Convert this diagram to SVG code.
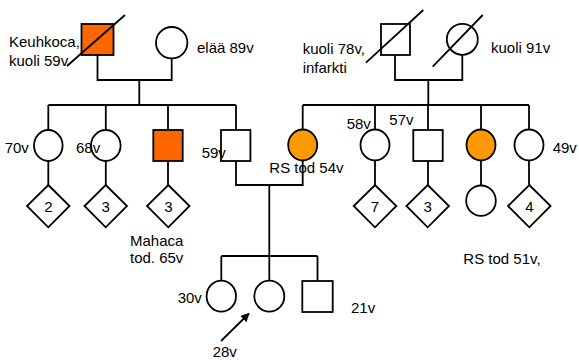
<svg xmlns="http://www.w3.org/2000/svg" width="579" height="360" viewBox="0 0 579 360">
<defs>
<style>
.s{fill:#fff;stroke:#000;stroke-width:1.8}
.o1{fill:#FF6600}
.o2{fill:#FF9900}
.c{fill:none;stroke:#000;stroke-width:1.8}
.d{stroke:#000;stroke-width:1.8}
text{font-family:"Liberation Sans",Arial,sans-serif;font-size:15px;fill:#000}
.m{text-anchor:middle}
</style>
<marker id="ah" viewBox="0 0 10 10" refX="9" refY="5" markerWidth="9" markerHeight="9" orient="auto" markerUnits="userSpaceOnUse">
<path d="M0,0 L10,5 L0,10 z" fill="#000"/>
</marker>
</defs>
<rect width="579" height="360" fill="#fff"/>
<g id="connectors">
<path class="c" d="M97.5,55 V80 H171.7 V58.5 M139.3,80 V105 M48.3,105 H236 M48.3,105 V130 M105.8,105 V130 M168,105 V130 M236,105 V130"/>
<path class="c" d="M395,55 V80 H462.3 V55 M428.3,80 V105 M302.7,105 H529 M302.7,105 V130 M375,105 V130 M428,105 V130 M481,105 V130 M529,105 V130"/>
<path class="c" d="M48.3,161 V185 M105.8,161 V185 M168,161 V185 M375,161 V185 M428,161 V185 M481,161 V185.5 M529,161 V185"/>
<path class="c" d="M236,161 V185 H302.7 V160.5 M269.3,185 V256 M221.3,256 H317.5 M221.3,256 V280.5 M269.3,256 V280.5 M317.5,256 V280.5"/>
<line class="d" x1="221" y1="341" x2="249" y2="313.5" marker-end="url(#ah)"/>
</g>
<g id="gf1"><rect class="s o1" x="81.5" y="24" width="32" height="31"/><line class="d" x1="67" y1="66" x2="125" y2="15"/></g>
<g id="gm1"><circle class="s" cx="171.7" cy="42.7" r="15.7"/></g>
<g id="gf2"><rect class="s" x="381" y="24" width="29" height="31"/><line class="d" x1="366" y1="62.7" x2="423.3" y2="10"/></g>
<g id="gm2"><circle class="s" cx="462.3" cy="39.3" r="15.5"/><line class="d" x1="432.7" y1="66.7" x2="482.7" y2="15"/></g>
<g id="a1"><ellipse class="s" cx="48.3" cy="145.5" rx="14.3" ry="15.5"/></g>
<g id="a2"><ellipse class="s" cx="105.8" cy="145.5" rx="14.8" ry="15.5"/></g>
<g id="a3"><rect class="s o1" x="153.3" y="130" width="29.4" height="31"/></g>
<g id="father"><rect class="s" x="221" y="130" width="29.4" height="31"/></g>
<g id="mother"><ellipse class="s o2" cx="302.7" cy="145" rx="14.5" ry="15.5"/></g>
<g id="b1"><ellipse class="s" cx="375" cy="145" rx="14.5" ry="15.5"/></g>
<g id="b2"><rect class="s" x="413.3" y="130" width="29.4" height="31"/></g>
<g id="b3"><ellipse class="s o2" cx="481" cy="145" rx="14.5" ry="15.5"/></g>
<g id="b4"><ellipse class="s" cx="529" cy="145" rx="14.5" ry="15.5"/></g>
<g id="d1"><polygon class="s" points="48.3,185 69.5,206 48.3,227.3 27,206"/><text class="m" x="48.3" y="211.5">2</text></g>
<g id="d2"><polygon class="s" points="105.7,185 127,206 105.7,227.3 84.5,206"/><text class="m" x="105.7" y="211.5">3</text></g>
<g id="d3"><polygon class="s" points="168.3,185 189.5,206 168.3,227.3 147,206"/><text class="m" x="168.3" y="211.5">3</text></g>
<g id="d4"><polygon class="s" points="375,185 396.3,206 375,227.3 353.7,206"/><text class="m" x="375" y="211.5">7</text></g>
<g id="d5"><polygon class="s" points="427.7,185 449,206 427.7,227.3 406.4,206"/><text class="m" x="427.7" y="211.5">3</text></g>
<g id="c5"><ellipse class="s" cx="481" cy="200.7" rx="14.8" ry="15.2"/></g>
<g id="d6"><polygon class="s" points="529.3,185 550.6,206 529.3,227.3 508,206"/><text class="m" x="529.3" y="211.5">4</text></g>
<g id="k1"><ellipse class="s" cx="221.3" cy="296.2" rx="14.7" ry="15.5"/></g>
<g id="k2"><ellipse class="s" cx="269.3" cy="296.2" rx="15" ry="15.5"/></g>
<g id="k3"><rect class="s" x="302.3" y="281" width="30.4" height="31"/></g>
<g id="labels">
<text x="9" y="47.3">Keuhkoca,</text>
<text x="9" y="65.7">kuoli 59v</text>
<text x="197" y="52.5">elää 89v</text>
<text x="302.7" y="53.5">kuoli 78v,</text>
<text x="302.7" y="72.5">infarkti</text>
<text x="491" y="53.3">kuoli 91v</text>
<text x="4.7" y="153.3">70v</text>
<text x="76" y="153.3">68v</text>
<text x="201.7" y="158">59v</text>
<text x="269.3" y="172.7">RS tod 54v</text>
<text x="346.7" y="129.3">58v</text>
<text x="389.3" y="125">57v</text>
<text x="552.7" y="153.3">49v</text>
<text x="130" y="245.7">Mahaca</text>
<text x="130" y="263">tod. 65v</text>
<text x="463.3" y="264">RS tod 51v,</text>
<text x="177.7" y="302.7">30v</text>
<text x="351" y="312.7">21v</text>
<text x="212.7" y="356.5">28v</text>
</g>
</svg>
